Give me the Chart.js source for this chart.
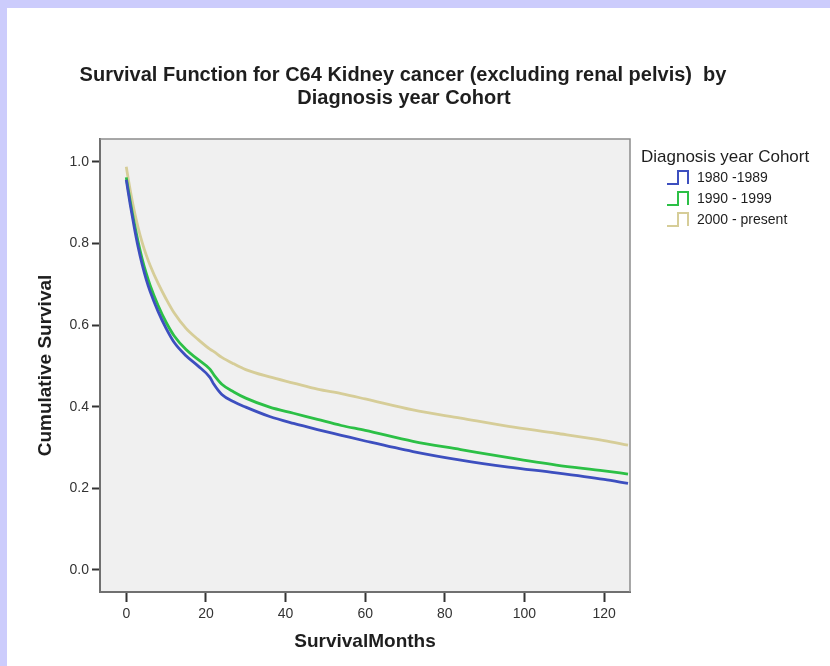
<!DOCTYPE html>
<html>
<head>
<meta charset="utf-8">
<title>Survival Function</title>
<script src="https://cdn.jsdelivr.net/npm/chart.js@4.4.1/dist/chart.umd.min.js"></script>
<style>
  html, body { margin: 0; padding: 0; background: #fff; }
  canvas { display: block; }
</style>
</head>
<body>
<canvas id="survivalChart" width="830" height="666"></canvas>
<script>
const months = [0, 0.5, 1, 2, 3, 4, 5, 6, 8, 10, 12, 15, 18, 21, 22, 24, 27, 30, 36, 42, 48, 54, 60, 72, 84, 96, 108, 120, 126];
const surv1980 = [0.956, 0.925, 0.895, 0.840, 0.790, 0.748, 0.712, 0.682, 0.633, 0.592, 0.558, 0.525, 0.500, 0.472, 0.455, 0.430, 0.412, 0.399, 0.376, 0.359, 0.344, 0.330, 0.316, 0.290, 0.269, 0.252, 0.238, 0.222, 0.212];
const surv1990 = [0.962, 0.932, 0.903, 0.850, 0.803, 0.762, 0.727, 0.697, 0.648, 0.607, 0.574, 0.540, 0.516, 0.492, 0.478, 0.455, 0.436, 0.421, 0.399, 0.384, 0.369, 0.354, 0.342, 0.315, 0.295, 0.275, 0.257, 0.243, 0.235];
const surv2000 = [0.988, 0.958, 0.930, 0.880, 0.838, 0.802, 0.772, 0.746, 0.702, 0.664, 0.630, 0.592, 0.565, 0.541, 0.535, 0.521, 0.505, 0.491, 0.473, 0.458, 0.443, 0.432, 0.419, 0.392, 0.372, 0.352, 0.335, 0.317, 0.306];
const cohortLabels = ["1980 -1989", "1990 - 1999", "2000 - present"];
const cohortColors = ["#3d4fbf", "#2cc046", "#d6cd98"];
const xTicks = [0, 20, 40, 60, 80, 100, 120];
const yTicks = [0, 0.2, 0.4, 0.6, 0.8, 1.0];

const FONT = "'Liberation Sans', Arial, sans-serif";
const TEXT = "#1e1e1e";

function toPoints(ys) {
  return months.map((m, i) => ({ x: m, y: ys[i] }));
}

// page background, title, legend and frame round the plot
const pagePlugin = {
  id: "page",
  beforeDraw(chart) {
    const { ctx, chartArea: a, width, height } = chart;
    ctx.save();
    ctx.fillStyle = "#ffffff";
    ctx.fillRect(0, 0, width, height);
    ctx.fillStyle = "#ccccfc";
    ctx.fillRect(0, 0, width, 8);
    ctx.fillRect(0, 0, 7, height);
    ctx.fillStyle = "#f0f0f0";
    ctx.fillRect(a.left, a.top, a.right - a.left, a.bottom - a.top);

    ctx.fillStyle = TEXT;
    ctx.textAlign = "center";
    ctx.textBaseline = "middle";
    ctx.font = "bold 20px " + FONT;
    ctx.fillText("Survival Function for C64 Kidney cancer (excluding renal pelvis)  by", 403, 75);
    ctx.fillText("Diagnosis year Cohort", 404, 98);
    ctx.restore();
  },
  afterDraw(chart) {
    const { ctx, chartArea: a } = chart;
    ctx.save();
    ctx.strokeStyle = "#8c8c8c";
    ctx.lineWidth = 1.5;
    ctx.beginPath();
    ctx.moveTo(a.left, a.top);
    ctx.lineTo(a.right, a.top);
    ctx.lineTo(a.right, a.bottom);
    ctx.stroke();

    // legend with step icons
    ctx.fillStyle = TEXT;
    ctx.textAlign = "left";
    ctx.textBaseline = "middle";
    ctx.font = "17px " + FONT;
    ctx.fillText("Diagnosis year Cohort", 641, 157);
    ctx.font = "14px " + FONT;
    chart.data.datasets.forEach((ds, i) => {
      const cy = 178 + i * 21;
      ctx.strokeStyle = ds.borderColor;
      ctx.lineWidth = 2;
      ctx.beginPath();
      ctx.moveTo(667, cy + 6);
      ctx.lineTo(678, cy + 6);
      ctx.lineTo(678, cy - 7);
      ctx.lineTo(688, cy - 7);
      ctx.lineTo(688, cy + 6);
      ctx.stroke();
      ctx.fillStyle = TEXT;
      ctx.fillText(ds.label, 697, cy);
    });
    ctx.restore();
  }
};

const ctx = document.getElementById("survivalChart").getContext("2d");
new Chart(ctx, {
  type: "line",
  data: {
    datasets: [surv1980, surv1990, surv2000].map((s, i) => ({
      label: cohortLabels[i],
      data: toPoints(s),
      borderColor: cohortColors[i],
      borderWidth: 2.8,
      pointRadius: 0,
      fill: false,
      cubicInterpolationMode: "monotone"
    }))
  },
  options: {
    responsive: false,
    animation: false,
    layout: { padding: { left: 0, top: 139, right: 200, bottom: 0 } },
    plugins: {
      legend: { display: false },
      title: { display: false },
      tooltip: { enabled: false }
    },
    scales: {
      x: {
        type: "linear",
        min: -6.6,
        max: 126.5,
        afterFit(scale) { scale.height = 74; },
        afterBuildTicks(scale) { scale.ticks = xTicks.map(v => ({ value: v })); },
        grid: { drawOnChartArea: false, tickLength: 10, tickColor: "#333", tickWidth: 2 },
        border: { display: true, color: "#707070", width: 2 },
        ticks: { color: "#333", padding: 4, font: { family: FONT, size: 14 }, maxRotation: 0 },
        title: {
          display: true,
          text: "SurvivalMonths",
          color: TEXT,
          font: { family: FONT, size: 19, weight: "bold" },
          padding: { top: 0, bottom: 12.6 }
        }
      },
      y: {
        type: "linear",
        min: -0.054,
        max: 1.056,
        afterFit(scale) { scale.width = 100; },
        afterBuildTicks(scale) { scale.ticks = yTicks.map(v => ({ value: v })); },
        grid: { drawOnChartArea: false, tickLength: 8, tickColor: "#333", tickWidth: 2 },
        border: { display: true, color: "#707070", width: 2 },
        ticks: {
          color: "#333",
          padding: 3,
          font: { family: FONT, size: 14 },
          callback: v => v.toFixed(1)
        },
        title: {
          display: true,
          text: "Cumulative Survival",
          color: TEXT,
          font: { family: FONT, size: 19, weight: "bold" },
          padding: { top: 34.6, bottom: 0 }
        }
      }
    }
  },
  plugins: [pagePlugin]
});
</script>
</body>
</html>
